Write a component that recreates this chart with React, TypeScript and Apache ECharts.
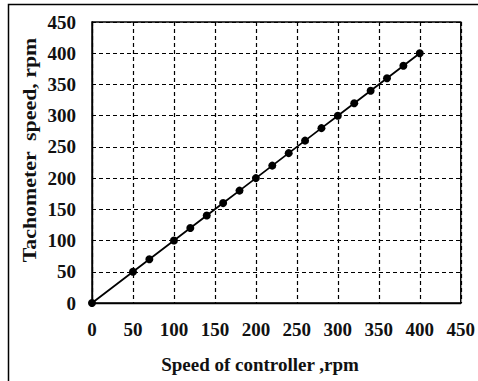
import React, { useEffect, useRef } from "react";
import * as echarts from "echarts";

// Controller set-point speed (rpm) and the matching tachometer reading (rpm)
const controllerSpeed = [0, 50, 70, 100, 120, 140, 160, 180, 200, 220, 240, 260, 280, 300, 320, 340, 360, 380, 400];
const tachometerSpeed = [0, 50, 70, 100, 120, 140, 160, 180, 200, 220, 240, 260, 280, 300, 320, 340, 360, 380, 400];

const xTitle = "Speed of controller ,rpm";
const yTitle = "Tachometer  speed, rpm";

const FONT = '"Liberation Serif", "Times New Roman", serif';

export default function App() {
  const ref = useRef<HTMLDivElement>(null);

  useEffect(() => {
    document.body.style.margin = "0";
    const chart = echarts.init(ref.current!, null, { renderer: "svg" });
    const data = controllerSpeed.map((x, i) => [x, tachometerSpeed[i]]);
    const dashed = { show: true, lineStyle: { color: "#000", type: [4, 3] as any, width: 1.2 } };
    const label = (margin: number) => ({
      color: "#111",
      fontFamily: FONT,
      fontWeight: "bold" as const,
      fontSize: 19,
      margin,
    });
    const axisCommon = {
      type: "value" as const,
      min: 0,
      max: 450,
      interval: 50,
      axisLine: { show: true, lineStyle: { color: "#000", width: 1.4 } },
      axisTick: { show: false },
      splitLine: dashed,
    };
    chart.setOption({
      animation: false,
      backgroundColor: "#fff",
      textStyle: { fontFamily: FONT },
      grid: { left: 92, top: 22, right: 14, bottom: 78, show: true, borderColor: "#000", borderWidth: 1.4 },
      xAxis: { ...axisCommon, axisLabel: label(17) },
      yAxis: { ...axisCommon, axisLabel: label(16) },
      series: [
        {
          type: "line",
          data,
          symbol: "circle",
          symbolSize: 8,
          itemStyle: { color: "#000" },
          lineStyle: { color: "#000", width: 1.8 },
        },
      ],
      graphic: [
        {
          type: "polyline",
          shape: { points: [[8.5, 381], [8.5, 4.5], [478, 4.5]] },
          style: { stroke: "#000", lineWidth: 1.5, fill: null },
        },
        {
          type: "text",
          x: 260,
          y: 364,
          style: {
            text: xTitle,
            fill: "#111",
            font: `bold 19px ${FONT}`,
            align: "center",
            verticalAlign: "middle",
          },
        },
        {
          type: "text",
          x: 30,
          y: 150,
          rotation: Math.PI / 2,
          scaleX: 1.15,
          style: {
            text: yTitle,
            fill: "#111",
            font: `bold 19px ${FONT}`,
            align: "center",
            verticalAlign: "middle",
          },
        },
      ],
    });
    return () => chart.dispose();
  }, []);

  return <div ref={ref} style={{ width: 478, height: 381 }} />;
}
